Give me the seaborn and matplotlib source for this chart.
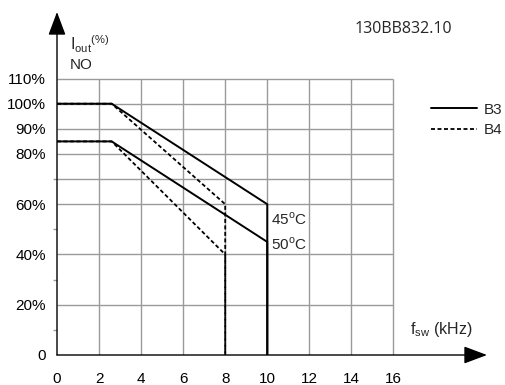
import matplotlib
matplotlib.use("Agg")
import matplotlib.pyplot as plt
import seaborn as sns

# derating curves (kHz, % of nominal output current)
b3_freq = [0, 2.6, 10, 10]
b3_45c = [100, 100, 60, 0]
b3_50c = [85, 85, 45, 0]
b4_freq = [0, 2.6, 8, 8]
b4_45c = [100, 100, 60, 0]
b4_50c = [85, 85, 40, 0]

x_ticks = [0, 2, 4, 6, 8, 10, 12, 14, 16]
y_ticks = [0, 20, 40, 60, 80, 90, 100, 110]
y_labels = ["0", "20%", "40%", "60%", "80%", "90%", "100%", "110%"]
y_minor = [10, 30, 50, 70]
grid_y = [20, 40, 60, 70, 80, 90, 100, 110]
grid_x = [2, 4, 6, 8, 10, 12, 14, 16]

sns.set_theme(style="white")
plt.rcParams["font.family"] = ["Liberation Sans", "DejaVu Sans"]
plt.rcParams["mathtext.fontset"] = "custom"
plt.rcParams["mathtext.rm"] = "Liberation Sans"

fig = plt.figure(figsize=(5.06, 3.85), dpi=100)
ax = fig.add_axes([57 / 506, 30 / 385, 430 / 506, 343 / 385])
ax.set_xlim(0, 20.45)
ax.set_ylim(0, 136.5)
for s in ax.spines.values():
    s.set_visible(False)

# grid only inside the 0..16 / 0..110 box
ax.hlines(grid_y, 0, 16, color="#9a9a9a", lw=1.0, zorder=1)
ax.vlines(grid_x, 0, 110, color="#9a9a9a", lw=1.0, zorder=1)

# axes with arrows
ax.annotate("", xy=(20.45, 0), xytext=(0, 0), annotation_clip=False,
            arrowprops=dict(arrowstyle="-|>,head_length=1.2,head_width=0.45",
                            color="black", lw=1.0, shrinkA=0, shrinkB=0))
ax.annotate("", xy=(0, 136.5), xytext=(0, 0), annotation_clip=False,
            arrowprops=dict(arrowstyle="-|>,head_length=1.2,head_width=0.45",
                            color="black", lw=1.0, shrinkA=0, shrinkB=0))

# curves
dash = (0, (2.2, 1.4))
ax.plot(b4_freq, b4_45c, color="black", lw=1.3, ls=dash, zorder=3, label="B4")
ax.plot(b4_freq, b4_50c, color="black", lw=1.3, ls=dash, zorder=3)
ax.plot(b3_freq, b3_45c, color="black", lw=1.4, zorder=4, label="B3")
ax.plot(b3_freq, b3_50c, color="black", lw=1.4, zorder=4)

ax.set_xticks(x_ticks)
ax.set_xticklabels([str(v) for v in x_ticks])
ax.set_yticks(y_ticks)
ax.set_yticklabels(y_labels)
ax.set_yticks(y_minor, minor=True)
ax.tick_params(axis="x", which="major", length=4, width=1, color="#777777",
               direction="out", pad=8, labelsize=11, labelcolor="black")
ax.tick_params(axis="y", which="major", length=5, width=1, color="#9a9a9a",
               direction="out", pad=3, labelsize=11, labelcolor="black")
ax.tick_params(axis="y", which="minor", length=3, width=1, color="#9a9a9a",
               direction="out", left=True)

# annotations
ax.text(0.6, 123.5, r"I$_{\mathregular{out}}$$^{\mathregular{(\%)}}$",
        fontsize=11.5, ha="left", va="center")
ax.text(0.6, 115.5, "NO", fontsize=11, ha="left", va="center")
ax.text(10.2, 54, r"45$^{\mathregular{o}}$C", fontsize=11, ha="left", va="center")
ax.text(10.2, 44, r"50$^{\mathregular{o}}$C", fontsize=11, ha="left", va="center")
ax.text(16.8, 10, r"f$_{\mathregular{sw}}$ (kHz)", fontsize=11.5, ha="left", va="center")
fig.text(403 / 506, 1 - 29 / 385, "130BB832.10", fontsize=11.5,
         family=["Open Sans", "DejaVu Sans"], ha="center", va="center")

handles, labels = ax.get_legend_handles_labels()
ax.legend(handles[::-1], labels[::-1], loc="center left",
          bbox_to_anchor=(0.855, 0.685), frameon=False, fontsize=11,
          handlelength=3.0, handletextpad=0.45, labelspacing=0.45,
          borderaxespad=0)

fig.savefig("out.png", dpi=100, facecolor="white")
